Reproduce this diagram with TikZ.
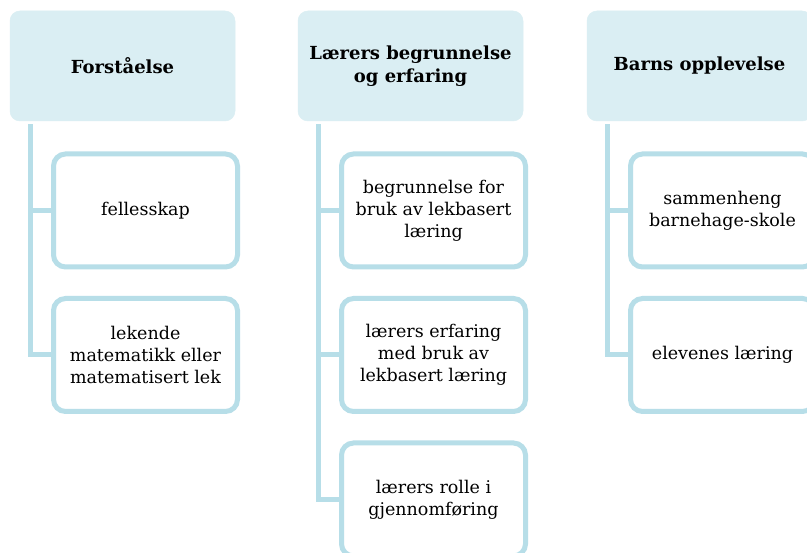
\documentclass[tikz,border=0pt]{standalone}
\usepackage{fontspec}
\setmainfont{DejaVu Serif}
\definecolor{hdrfill}{HTML}{DAEEF3}
\definecolor{linec}{HTML}{B7DEE8}
\begin{document}
\begin{tikzpicture}[x=1pt,y=-1pt,
 hdr/.style={fill=hdrfill, draw=hdrfill, line width=0.5pt, rounded corners=10pt, minimum width=225pt, minimum height=110pt, inner sep=0pt, align=center, font=\bfseries\fontsize{18}{23}\selectfont},
 item/.style={draw=linec, line width=5pt, fill=white, rounded corners=12pt, minimum width=184pt, minimum height=113pt, inner sep=0pt, align=center, font=\fontsize{17.5}{22}\selectfont},
 conn/.style={draw=linec, line width=5pt}]
\useasboundingbox (0,0) rectangle (807,553);
\clip (0,0) rectangle (807,553);
\fill[white] (0,0) rectangle (807,553);
% column 1
\node[hdr] (h1) at (122.5,66) {Forståelse};
\node[item] (c11) at (145.5,210.5) {fellesskap};
\node[item] (c12) at (145.5,355) {lekende\\matematikk eller\\matematisert lek};
% column 2
\node[hdr] (h2) at (410.5,66) {Lærers begrunnelse\\og erfaring};
\node[item] (c21) at (433.5,210.5) {begrunnelse for\\bruk av lekbasert\\læring};
\node[item] (c22) at (433.5,355) {lærers erfaring\\med bruk av\\lekbasert læring};
\node[item] (c23) at (433.5,499.5) {lærers rolle i\\gjennomføring};
% column 3
\node[hdr] (h3) at (699.5,66) {Barns opplevelse};
\node[item] (c31) at (722.5,210.5) {sammenheng\\barnehage-skole};
\node[item] (c32) at (722.5,355) {elevenes læring};
% connectors
\coordinate (v1) at ([xshift=20.5pt,yshift=-3pt]h1.south west);
\coordinate (v2) at ([xshift=20.5pt,yshift=-3pt]h2.south west);
\coordinate (v3) at ([xshift=20.5pt,yshift=-3pt]h3.south west);
\draw[conn] (v1) |- (c11.west);
\draw[conn] (v1) |- (c12.west);
\draw[conn] (v2) |- (c21.west);
\draw[conn] (v2) |- (c22.west);
\draw[conn] (v2) |- (c23.west);
\draw[conn] (v3) |- (c31.west);
\draw[conn] (v3) |- (c32.west);
\end{tikzpicture}
\end{document}
